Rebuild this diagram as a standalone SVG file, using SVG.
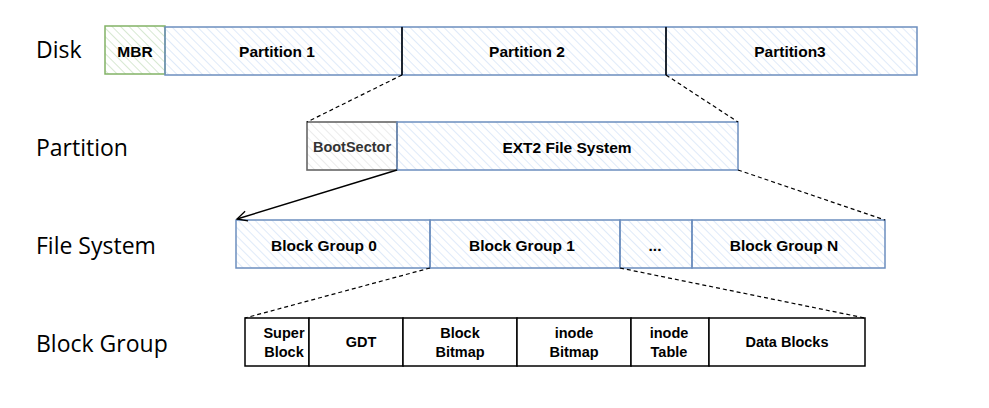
<svg xmlns="http://www.w3.org/2000/svg" width="989" height="408" viewBox="0 0 989 408">
<defs>
<pattern id="hb" width="6" height="6" patternUnits="userSpaceOnUse" patternTransform="rotate(-45)">
<line x1="0" y1="0" x2="0" y2="6" stroke="#c9dbf5" stroke-width="1.2"/>
</pattern>
<pattern id="hg" width="6" height="6" patternUnits="userSpaceOnUse" patternTransform="rotate(-45)">
<line x1="0" y1="0" x2="0" y2="6" stroke="#bcd8b4" stroke-width="1.2"/>
</pattern>
<pattern id="hk" width="6" height="6" patternUnits="userSpaceOnUse" patternTransform="rotate(-45)">
<line x1="0" y1="0" x2="0" y2="6" stroke="#dedede" stroke-width="1.2"/>
</pattern>
<marker id="arr" viewBox="0 0 12 12" refX="11" refY="6" markerWidth="12" markerHeight="12" orient="auto" markerUnits="userSpaceOnUse">
<path d="M1,1 L11,6 L1,11" fill="none" stroke="#000" stroke-width="1.3"/>
</marker>
<style>
.lbl{font-family:"Open Sans","Liberation Sans",sans-serif;font-size:23px;fill:#000}
.t{font-family:"Liberation Sans",Arial,sans-serif;font-size:15.5px;font-weight:bold;fill:#000;text-anchor:middle;dominant-baseline:central}
.s{font-size:14.5px}
.blue{fill:url(#hb);stroke:#6c8ebf;stroke-width:1.5}
.green{fill:url(#hg);stroke:#82b366;stroke-width:1.5}
.grey{fill:url(#hk);stroke:#666;stroke-width:1.6}
.blk{fill:#fff;stroke:#000;stroke-width:1.5}
.dash{fill:none;stroke:#000;stroke-width:1.2;stroke-dasharray:4 3}
.sol{fill:none;stroke:#000;stroke-width:1.5}
</style>
</defs>
<g id="row-labels">
<text class="lbl" x="36" y="58">Disk</text>
<text class="lbl" x="36" y="156">Partition</text>
<text class="lbl" x="36" y="254">File System</text>
<text class="lbl" x="36" y="352">Block Group</text>
</g>
<g id="mbr"><rect class="green" x="105" y="26" width="60" height="48"/><text class="t" x="135" y="51">MBR</text></g>
<g id="partition1"><rect class="blue" x="165" y="27" width="237" height="48"/><text class="t" x="277" y="51">Partition 1</text></g>
<g id="partition2"><rect class="blue" x="402" y="27" width="264" height="48"/><text class="t" x="527" y="51">Partition 2</text></g>
<g id="partition3"><rect class="blue" x="666" y="27" width="251" height="48"/><text class="t" x="790" y="51">Partition3</text></g>
<g id="bootsector"><rect class="grey" x="307" y="122" width="90" height="48"/><text class="t" x="352" y="147" style="fill:#333;font-size:14.5px">BootSector</text></g>
<g id="ext2"><rect class="blue" x="397" y="122" width="341" height="48"/><text class="t" x="567" y="147">EXT2 File System</text></g>
<g id="bg0"><rect class="blue" x="236" y="220" width="194" height="48"/><text class="t" x="324" y="245">Block Group 0</text></g>
<g id="bg1"><rect class="blue" x="430" y="220" width="190" height="48"/><text class="t" x="522" y="245">Block Group 1</text></g>
<g id="bgdots"><rect class="blue" x="620" y="220" width="72" height="48"/><text class="t" x="655" y="245">...</text></g>
<g id="bgN"><rect class="blue" x="692" y="220" width="193" height="48"/><text class="t" x="784" y="245">Block Group N</text></g>
<g id="superblock"><rect class="blk" x="245" y="318" width="64" height="48"/><text class="t s" x="284" y="333">Super</text><text class="t s" x="284" y="352">Block</text></g>
<g id="gdt"><rect class="blk" x="309" y="318" width="94" height="48"/><text class="t s" x="361" y="342">GDT</text></g>
<g id="blockbitmap"><rect class="blk" x="403" y="318" width="114" height="48"/><text class="t s" x="460" y="333">Block</text><text class="t s" x="460" y="352">Bitmap</text></g>
<g id="inodebitmap"><rect class="blk" x="517" y="318" width="114" height="48"/><text class="t s" x="574" y="333">inode</text><text class="t s" x="574" y="352">Bitmap</text></g>
<g id="inodetable"><rect class="blk" x="631" y="318" width="78" height="48"/><text class="t s" x="669" y="333">inode</text><text class="t s" x="669" y="352">Table</text></g>
<g id="datablocks"><rect class="blk" x="709" y="318" width="156" height="48"/><text class="t s" x="787" y="342">Data Blocks</text></g>
<g id="connectors">
<line class="sol" x1="402" y1="27" x2="402" y2="75"/>
<line class="sol" x1="666" y1="27" x2="666" y2="75"/>
<line class="dash" x1="402" y1="75" x2="307" y2="122"/>
<line class="dash" x1="666" y1="75" x2="738" y2="122"/>
<line class="sol" x1="397" y1="170" x2="237" y2="219" marker-end="url(#arr)"/>
<line class="dash" x1="738" y1="170" x2="885" y2="220"/>
<line class="dash" x1="430" y1="268" x2="245" y2="318"/>
<line class="dash" x1="620" y1="268" x2="865" y2="318"/>
</g>
</svg>
